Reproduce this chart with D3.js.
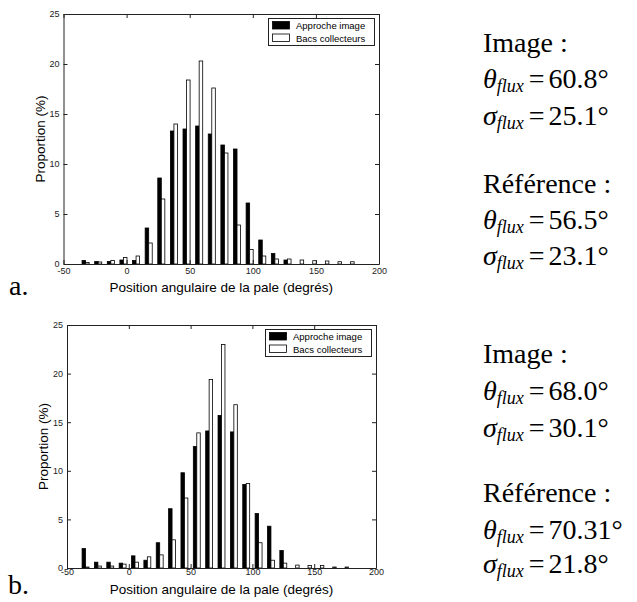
<!DOCTYPE html>
<html>
<head>
<meta charset="utf-8">
<title>Position angulaire de la pale</title>
<script src="https://cdn.jsdelivr.net/npm/d3@7"></script>
<style>
  body { margin: 0; background: #fff; }
  svg { display: block; }
</style>
</head>
<body>
<div id="chart"></div>
<script>
// bin centres (degrés)
var binsA = [-32.5, -22.5, -12.5, -2.5, 7.5, 17.5, 27.5, 37.5, 47.5, 57.5, 67.5,
             77.5, 87.5, 97.5, 107.5, 117.5, 127.5, 137.5, 147.5, 157.5, 167.5, 177.5];
var binsB = [-35, -25, -15, -5, 5, 15, 25, 35, 45, 55, 65,
             75, 85, 95, 105, 115, 125, 135, 145, 155, 165, 175];

// proportions (%) - panel a
var imageA   = [0.35, 0.25, 0.25, 0.4, 0.35, 3.6, 8.6, 13.3, 13.5, 13.8, 13.0,
                11.9, 11.5, 6.1, 2.4, 1.05, 0.4, 0, 0, 0, 0, 0];
var collectA = [0.15, 0.2, 0.35, 0.65, 0.8, 2.1, 6.5, 14.0, 18.4, 20.3, 17.6,
                11.1, 3.9, 1.45, 0.8, 0.5, 0.5, 0.4, 0.33, 0.3, 0.23, 0.23];

// proportions (%) - panel b
var imageB   = [2.0, 0.6, 0.6, 0.5, 1.25, 0.8, 2.6, 6.1, 9.8, 12.5, 14.1,
                15.7, 14.0, 8.6, 5.6, 4.3, 1.8, 0, 0, 0, 0, 0];
var collectB = [0.1, 0.2, 0.2, 0.4, 0.6, 1.15, 1.35, 2.9, 7.2, 13.9, 19.4,
                23.0, 16.8, 8.7, 2.6, 0.8, 0.5, 0.3, 0.25, 0.25, 0.1, 0.1];

var xTicks = [-50, 0, 50, 100, 150, 200];
var yTicks = [0, 5, 10, 15, 20, 25];
var legendLabels = ["Approche image", "Bacs collecteurs"];
var xLabel = "Position angulaire de la pale (degrés)";
var yLabel = "Proportion (%)";

var statsA = [["Image :"], ["θ", "60.8°"], ["σ", "25.1°"], [""], ["Référence :"], ["θ", "56.5°"], ["σ", "23.1°"]];
var statsB = [["Image :"], ["θ", "68.0°"], ["σ", "30.1°"], [""], ["Référence :"], ["θ", "70.31°"], ["σ", "21.8°"]];

var W = 637, H = 602;
var sans = "'Liberation Sans', Arial, Helvetica, sans-serif";
var serif = "'Liberation Serif', 'Times New Roman', Times, serif";

var svg = d3.select("#chart").append("svg")
    .attr("width", W)
    .attr("height", H);

svg.append("rect").attr("width", W).attr("height", H).attr("fill", "#fff");

function drawPanel(p) {
    var x = d3.scaleLinear().domain([-50, 200]).range([p.left, p.right]);
    var y = d3.scaleLinear().domain([0, 25]).range([p.bottom, p.top]);
    var bw = 2.8; // bar width in degrees

    var g = svg.append("g");

    // bars: black then white, side by side around the bin centre
    g.selectAll("rect.img")
      .data(p.bins.map(function(b, i) { return { b: b, v: p.black[i] }; }).filter(function(d) { return d.v > 0; }))
      .enter().append("rect")
      .attr("class", "img")
      .attr("x", function(d) { return x(d.b - bw); })
      .attr("y", function(d) { return y(d.v); })
      .attr("width", function(d) { return x(d.b) - x(d.b - bw); })
      .attr("height", function(d) { return y(0) - y(d.v); })
      .attr("fill", "#000")
      .attr("stroke", "#000")
      .attr("stroke-width", 0.8);

    g.selectAll("rect.col")
      .data(p.bins.map(function(b, i) { return { b: b, v: p.white[i] }; }).filter(function(d) { return d.v > 0; }))
      .enter().append("rect")
      .attr("class", "col")
      .attr("x", function(d) { return x(d.b); })
      .attr("y", function(d) { return y(d.v); })
      .attr("width", function(d) { return x(d.b + bw) - x(d.b); })
      .attr("height", function(d) { return y(0) - y(d.v); })
      .attr("fill", "#fff")
      .attr("stroke", "#000")
      .attr("stroke-width", 0.8);

    // axes on four sides, ticks pointing inward
    var fmt = function(d) { return String(d); }; // plain hyphen like the original
    var bottom = g.append("g").attr("transform", "translate(0," + p.bottom + ")")
        .call(d3.axisBottom(x).tickValues(xTicks).tickFormat(fmt).tickSize(-4).tickSizeOuter(0).tickPadding(p.xpad));
    var top = g.append("g").attr("transform", "translate(0," + p.top + ")")
        .call(d3.axisTop(x).tickValues(xTicks).tickSize(-4).tickSizeOuter(0).tickFormat(""));
    var left = g.append("g").attr("transform", "translate(" + p.left + ",0)")
        .call(d3.axisLeft(y).tickValues(yTicks).tickFormat(fmt).tickSize(-4).tickSizeOuter(0).tickPadding(4));
    var right = g.append("g").attr("transform", "translate(" + p.right + ",0)")
        .call(d3.axisRight(y).tickValues(yTicks).tickSize(-4).tickSizeOuter(0).tickFormat(""));

    [bottom, top, left, right].forEach(function(a) {
        a.selectAll("path, line").attr("stroke", "#222");
        a.selectAll("text").attr("font-family", sans).attr("font-size", 9).attr("fill", "#222");
    });

    // axis titles
    g.append("text")
      .attr("x", (p.left + p.right) / 2)
      .attr("y", p.bottom + p.xlabelOff)
      .attr("text-anchor", "middle")
      .attr("font-family", sans)
      .attr("font-size", 13.5)
      .text(xLabel);

    g.append("text")
      .attr("transform", "translate(" + (p.left - 19) + "," + ((p.top + p.bottom) / 2) + ") rotate(-90)")
      .attr("text-anchor", "middle")
      .attr("font-family", sans)
      .attr("font-size", 13.5)
      .text(yLabel);

    // legend
    var lx = p.right - 111, ly = p.top + 4;
    var lg = g.append("g").attr("transform", "translate(" + lx + "," + ly + ")");
    lg.append("rect").attr("x", 0.5).attr("y", 0.5).attr("width", 106).attr("height", 27)
      .attr("fill", "#fff").attr("stroke", "#222").attr("stroke-width", 1);
    legendLabels.forEach(function(lab, i) {
        lg.append("rect")
          .attr("x", 4.5).attr("y", 3.5 + i * 12.5)
          .attr("width", 17).attr("height", 7.5)
          .attr("fill", i === 0 ? "#000" : "#fff")
          .attr("stroke", "#000").attr("stroke-width", 0.8);
        lg.append("text")
          .attr("x", 28).attr("y", 11 + i * 12.5)
          .attr("font-family", sans).attr("font-size", 9.5)
          .text(lab);
    });

    // panel letter
    svg.append("text")
      .attr("x", p.letterX).attr("y", p.letterY)
      .attr("font-family", serif).attr("font-size", 28)
      .text(p.letter);

    // statistics text on the right
    p.stats.forEach(function(s, i) {
        var t = svg.append("text")
          .attr("x", 483).attr("y", p.statsY[i])
          .attr("font-family", serif).attr("font-size", 28);
        if (s.length === 1) {
            t.text(s[0]);
        } else {
            t.append("tspan").attr("font-style", "italic").text(s[0]);
            t.append("tspan").attr("font-style", "italic").attr("font-size", 18).attr("dy", 4).text("flux");
            t.append("tspan").attr("dy", -4).attr("dx", 5).text("=");
            t.append("tspan").attr("dx", 4).text(s[1]);
        }
    });
}

drawPanel({
    left: 63.5, right: 379, top: 14, bottom: 264,
    bins: binsA, black: imageA, white: collectA,
    xpad: 4, xlabelOff: 28,
    letter: "a.", letterX: 9, letterY: 295,
    stats: statsA, statsY: [52, 88, 125, 0, 193, 229, 265]
});

drawPanel({
    left: 67, right: 376, top: 325, bottom: 568,
    bins: binsB, black: imageB, white: collectB,
    xpad: 1, xlabelOff: 26,
    letter: "b.", letterX: 8, letterY: 594,
    stats: statsB, statsY: [363, 400, 437, 0, 502, 539, 573]
});
</script>
</body>
</html>
